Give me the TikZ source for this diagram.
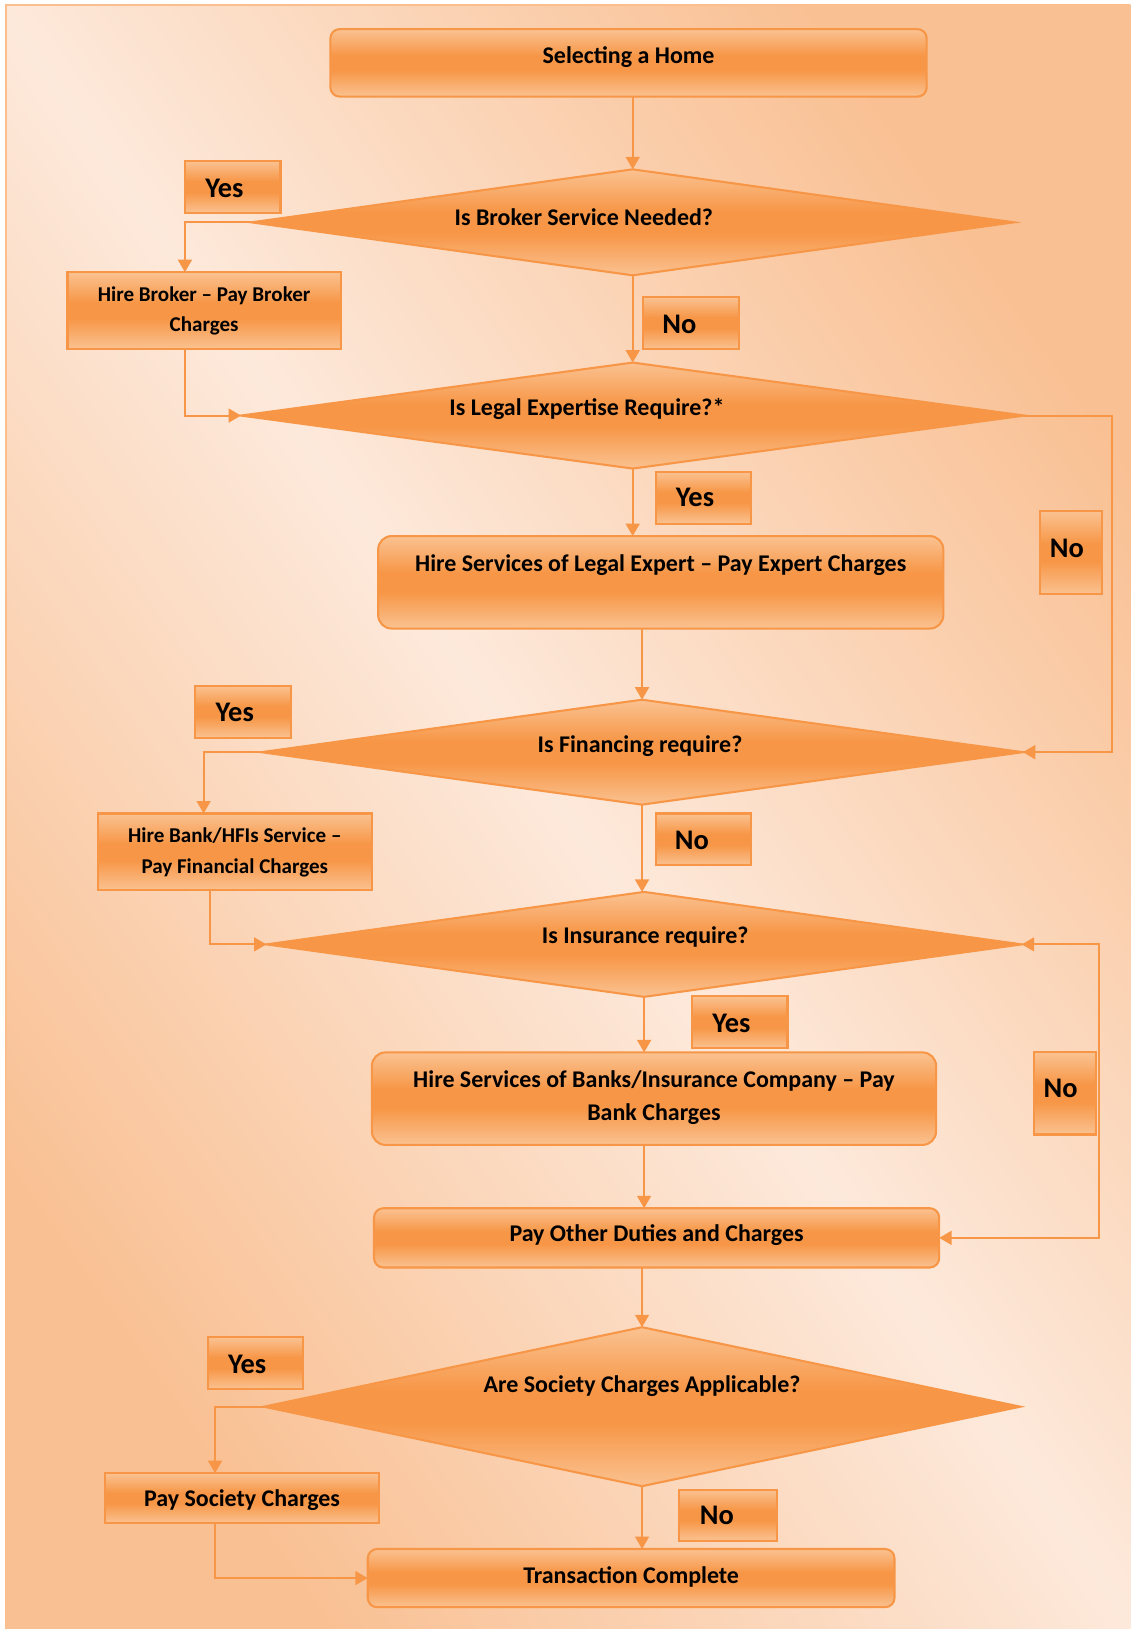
\documentclass[tikz,border=0pt]{standalone}
\usepackage{fontspec}
\setmainfont{Carlito}
\usetikzlibrary{shapes.geometric,arrows.meta,calc}
\definecolor{ocol}{HTML}{F79646}
\definecolor{nlight}{HTML}{FAC291}
\definecolor{bgdark}{HTML}{F9C093}
\definecolor{bglight}{HTML}{FDE9DB}
\definecolor{bgline}{HTML}{FBBE8C}
\pgfdeclareverticalshading{nodeshade}{100bp}{color(0bp)=(nlight); color(25bp)=(nlight); color(45bp)=(ocol); color(55bp)=(ocol); color(75bp)=(nlight); color(100bp)=(nlight)}
\def\pxu{0.75pt}
\begin{document}
\begin{tikzpicture}[x=0.75pt,y=-0.75pt,
  box/.style={draw=ocol, line width=1.5pt, shade, shading=nodeshade, inner sep=0pt, outer sep=0pt},
  rbox/.style={box, rounded corners=9*\pxu},
  dia/.style={box, diamond},
  lbl/.style={font=\bfseries\fontsize{20.5}{24}\selectfont, inner sep=0pt},
  txt/.style={font=\bfseries\fontsize{17.3}{23.25}\selectfont, inner sep=0pt, align=center},
  stxt/.style={font=\bfseries\fontsize{15.2}{21.75}\selectfont, inner sep=0pt, align=center},
  conn/.style={draw=ocol, line width=1.5pt, -{Triangle[length=9pt,width=10pt]}},
  conntwo/.style={draw=ocol, line width=1.5pt, {Triangle[length=9pt,width=10pt]}-{Triangle[length=9pt,width=10pt]}},
]
\useasboundingbox (0,0) rectangle (1088,1568);
% background
\shade[top color=bgdark, bottom color=bgdark, middle color=bglight, shading angle=-55] (5.8,4.8) rectangle (1088,1568);
\draw[bgline, line width=1.5pt] (5.8,1568) -- (5.8,4.8) -- (1088,4.8);

% shapes
\node[rbox, minimum width=574*\pxu, minimum height=65*\pxu] (home) at (605,60.5) {};
\node[dia, minimum width=734*\pxu, minimum height=102*\pxu] (d1) at (609,214) {};
\node[box, minimum width=92*\pxu, minimum height=50*\pxu] (yes1) at (224,180) {};
\node[box, minimum width=263*\pxu, minimum height=74*\pxu] (broker) at (196.5,299) {};
\node[box, minimum width=92*\pxu, minimum height=50*\pxu] (no1) at (665,311) {};
\node[dia, minimum width=754*\pxu, minimum height=102*\pxu] (d2) at (609,400) {};
\node[box, minimum width=92*\pxu, minimum height=50*\pxu] (yes2) at (677,479) {};
\node[rbox, rounded corners=13*\pxu, minimum width=544*\pxu, minimum height=89*\pxu] (legal) at (636,560.5) {};
\node[box, minimum width=60*\pxu, minimum height=80*\pxu] (no2) at (1031,532) {};
\node[dia, minimum width=733*\pxu, minimum height=101*\pxu] (d3) at (618,724) {};
\node[box, minimum width=92*\pxu, minimum height=50*\pxu] (yes3) at (234,685) {};
\node[box, minimum width=264*\pxu, minimum height=74*\pxu] (hfi) at (226,820) {};
\node[box, minimum width=92*\pxu, minimum height=50*\pxu] (no3) at (677,808) {};
\node[dia, minimum width=727*\pxu, minimum height=101*\pxu] (d4) at (620,909) {};
\node[box, minimum width=92*\pxu, minimum height=50*\pxu] (yes4) at (712,984) {};
\node[rbox, rounded corners=13*\pxu, minimum width=543*\pxu, minimum height=89*\pxu] (ins) at (629.5,1057.5) {};
\node[box, minimum width=60*\pxu, minimum height=79*\pxu] (no4) at (1025,1052.5) {};
\node[rbox, minimum width=544*\pxu, minimum height=57*\pxu] (other) at (632,1191.5) {};
\node[dia, minimum width=728*\pxu, minimum height=153*\pxu] (d5) at (618,1354) {};
\node[box, minimum width=92*\pxu, minimum height=50*\pxu] (yes5) at (246,1312) {};
\node[box, minimum width=264*\pxu, minimum height=48*\pxu] (society) at (233,1442) {};
\node[box, minimum width=94*\pxu, minimum height=49*\pxu] (no5) at (701,1458.5) {};
\node[rbox, minimum width=507*\pxu, minimum height=56*\pxu] (done) at (607.5,1519) {};

% texts
\node[txt] (thome) at ($(home.center)+(0,-5.5)$) {Selecting a Home};
\node[txt] (td1) at ($(d1.center)+(-47,-5)$) {Is Broker Service Needed?};
\node[lbl] (tyes1) at ($(yes1.center)+(-8,1)$) {Yes};
\node[stxt] (tbroker) at ($(broker.center)+(0,0.5)$) {Hire Broker – Pay Broker\\Charges};
\node[lbl] (tno1) at ($(no1.center)+(-11,1)$) {No};
\node[txt] (td2) at ($(d2.center)+(-44,-6)$) {Is Legal Expertise Require?*};
\node[lbl] (tyes2) at ($(yes2.center)+(-8,0)$) {Yes};
\node[txt] (tlegal) at ($(legal.center)+(0,-16.5)$) {Hire Services of Legal Expert – Pay Expert Charges};
\node[lbl] (tno2) at ($(no2.center)+(-4,-4)$) {No};
\node[txt] (td3) at ($(d3.center)+(-2,-6)$) {Is Financing require?};
\node[lbl] (tyes3) at ($(yes3.center)+(-8,1)$) {Yes};
\node[stxt] (thfi) at ($(hfi.center)+(0,0.5)$) {Hire Bank/HFIs Service –\\Pay Financial Charges};
\node[lbl] (tno3) at ($(no3.center)+(-11,1)$) {No};
\node[txt] (td4) at ($(d4.center)+(1,-7)$) {Is Insurance require?};
\node[lbl] (tyes4) at ($(yes4.center)+(-8,1)$) {Yes};
\node[txt] (tins) at ($(ins.center)+(0,-1)$) {Hire Services of Banks/Insurance Company – Pay\\Bank Charges};
\node[lbl] (tno4) at ($(no4.center)+(-4,-4.5)$) {No};
\node[txt] (tother) at ($(other.center)+(0,-2.5)$) {Pay Other Duties and Charges};
\node[txt] (td5) at ($(d5.center)+(0,-20)$) {Are Society Charges Applicable?};
\node[lbl] (tyes5) at ($(yes5.center)+(-8,1)$) {Yes};
\node[txt] (tsociety) at ($(society.center)+(0,2)$) {Pay Society Charges};
\node[lbl] (tno5) at ($(no5.center)+(-11,0.5)$) {No};
\node[txt] (tdone) at ($(done.center)+(0,-1)$) {Transaction Complete};

% connectors
\draw[conn] (home.south -| d1.north) -- (d1.north);
\draw[conn] (d1.west) -| ($(broker.north)+(-18.5,0)$);
\draw[conn] (d1.south) -- (d2.north);
\draw[conn] ($(broker.south)+(-18.5,0)$) |- (d2.west);
\draw[conn] (d2.east) -- ++(84,0) |- (d3.east);
\draw[conn] (d2.south) -- (d2.south |- legal.north);
\draw[conn] (legal.south -| d3.north) -- (d3.north);
\draw[conn] (d3.west) -| ($(hfi.north)+(-30,0)$);
\draw[conn] (d3.south) -- (d3.south |- d4.north);
\draw[conn] ($(hfi.south)+(-24,0)$) |- (d4.west);
\draw[conntwo] (d4.east) -- ++(74,0) |- (other.east);
\draw[conn] (d4.south) -- (d4.south |- ins.north);
\draw[conn] (ins.south -| d4.south) -- (other.north -| d4.south);
\draw[conn] (other.south -| d5.north) -- (d5.north);
\draw[conn] (d5.west) -| ($(society.north)+(-26,0)$);
\draw[conn] (d5.south) -- (d5.south |- done.north);
\draw[conn] ($(society.south)+(-26,0)$) |- (done.west);
\end{tikzpicture}
\end{document}
